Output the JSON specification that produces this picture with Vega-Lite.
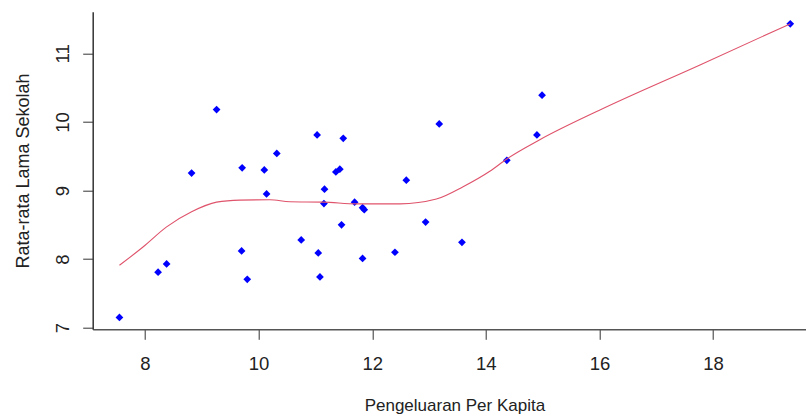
{
  "$schema": "https://vega.github.io/schema/vega-lite/v6.json",
  "autosize": {"type": "none"},
  "width": 713.3,
  "height": 317.6,
  "padding": {"left": 92.7, "top": 11.7, "right": 0, "bottom": 87.7},
  "background": "white",
  "config": {"view": {"stroke": null}, "font": "Liberation Sans"},
  "layer": [
    {
      "data": {"values": [
        {"x": 7.55, "y": 7.15}, {"x": 8.23, "y": 7.81}, {"x": 8.38, "y": 7.93}, {"x": 8.82, "y": 9.255},
        {"x": 9.26, "y": 10.18}, {"x": 9.70, "y": 8.12}, {"x": 9.71, "y": 9.33}, {"x": 9.80, "y": 7.705},
        {"x": 10.10, "y": 9.30}, {"x": 10.14, "y": 8.95}, {"x": 10.32, "y": 9.54}, {"x": 10.75, "y": 8.28},
        {"x": 11.03, "y": 9.81}, {"x": 11.05, "y": 8.09}, {"x": 11.08, "y": 7.74}, {"x": 11.15, "y": 8.81},
        {"x": 11.16, "y": 9.02}, {"x": 11.36, "y": 9.27}, {"x": 11.43, "y": 9.31}, {"x": 11.46, "y": 8.50},
        {"x": 11.49, "y": 9.76}, {"x": 11.69, "y": 8.83}, {"x": 11.83, "y": 8.75}, {"x": 11.86, "y": 8.72},
        {"x": 11.83, "y": 8.01}, {"x": 12.40, "y": 8.10}, {"x": 12.60, "y": 9.15}, {"x": 12.94, "y": 8.54},
        {"x": 13.18, "y": 9.97}, {"x": 13.58, "y": 8.245}, {"x": 14.37, "y": 9.44}, {"x": 14.90, "y": 9.81},
        {"x": 14.99, "y": 10.39}, {"x": 19.36, "y": 11.43}
      ]},
      "mark": {"type": "point", "shape": "diamond", "filled": true, "color": "#0000FF", "opacity": 1, "size": 60},
      "encoding": {
        "x": {"field": "x", "type": "quantitative",
          "scale": {"domain": [7.079, 19.637], "nice": false, "zero": false},
          "axis": {"values": [8, 10, 12, 14, 16, 18], "format": "d", "title": "Pengeluaran Per Kapita", "grid": false,
            "domainColor": "#555555", "domainWidth": 1.5, "tickColor": "#333333", "tickSize": 10, "tickWidth": 1,
            "labelFontSize": 18.5, "labelColor": "#222222", "labelPadding": 30, "labelBaseline": "alphabetic",
            "labelFlush": false, "labelOverlap": false,
            "titleFontSize": 17, "titleFontWeight": "normal", "titleColor": "#222222",
            "titleX": 361.7, "titleY": 81.4, "titleBaseline": "alphabetic", "titleAlign": "center", "titleAnchor": null}},
        "y": {"field": "y", "type": "quantitative",
          "scale": {"domain": [6.977, 11.606], "nice": false, "zero": false},
          "axis": {"values": [7, 8, 9, 10, 11], "format": "d", "title": "Rata-rata Lama Sekolah", "grid": false,
            "domainColor": "#333333", "domainWidth": 1.5, "tickColor": "#333333", "tickSize": 10, "tickWidth": 1,
            "labelFontSize": 18.5, "labelColor": "#222222", "labelPadding": 14.7, "labelAngle": 270,
            "labelAlign": "center", "labelBaseline": "alphabetic", "labelFlush": false, "labelOverlap": false,
            "titleFontSize": 18, "titleFontWeight": "normal", "titleColor": "#222222", "titleAngle": 270,
            "titleX": -64.5, "titleY": 158.8, "titleAlign": "center", "titleBaseline": "alphabetic", "titleAnchor": null}}
      }
    },
    {
      "data": {"values": [
        {"x": 7.55, "y": 7.91}, {"x": 7.97, "y": 8.18}, {"x": 8.38, "y": 8.47}, {"x": 8.82, "y": 8.69},
        {"x": 9.26, "y": 8.83}, {"x": 9.67, "y": 8.86}, {"x": 10.2, "y": 8.865}, {"x": 10.55, "y": 8.835},
        {"x": 11.14, "y": 8.83}, {"x": 11.73, "y": 8.805}, {"x": 12.49, "y": 8.805}, {"x": 13.13, "y": 8.875},
        {"x": 13.6, "y": 9.055}, {"x": 14.07, "y": 9.28}, {"x": 14.37, "y": 9.46}, {"x": 14.95, "y": 9.74},
        {"x": 16.0, "y": 10.17}, {"x": 17.77, "y": 10.83}, {"x": 19.36, "y": 11.43}
      ]},
      "mark": {"type": "line", "color": "#DF536B", "strokeWidth": 1.1, "interpolate": "monotone"},
      "encoding": {
        "x": {"field": "x", "type": "quantitative", "title": "Pengeluaran Per Kapita"},
        "y": {"field": "y", "type": "quantitative", "title": "Rata-rata Lama Sekolah"}
      }
    },
    {
      "mark": {"type": "rule", "color": "#666666", "strokeWidth": 1.8},
      "encoding": {"y": {"datum": 11.606, "type": "quantitative"}}
    }
  ]
}
